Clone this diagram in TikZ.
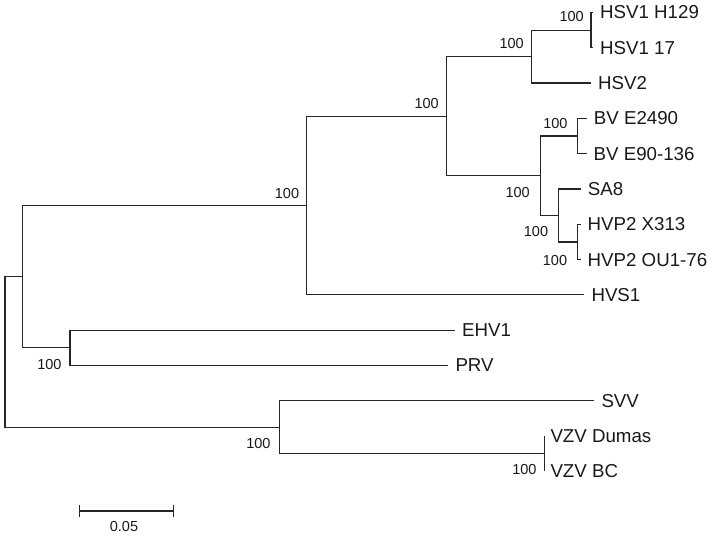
\documentclass[tikz,border=0pt]{standalone}
\usepackage{fontspec}
\setmainfont{Liberation Sans}
\begin{document}
\begin{tikzpicture}[x=1pt,y=-1pt,
  br/.style={line width=1.2pt, draw=black!85},
  leaf/.style={anchor=west, inner xsep=7pt, inner ysep=0pt, text=black!90, font=\fontsize{18.7}{20}\selectfont},
  boot/.style={anchor=east, inner sep=0pt, text=black!90, font=\fontsize{14.5}{16}\selectfont}]
\path[use as bounding box] (0,0) rectangle (715,537);
% leaves
\node[leaf] (l1)  at (593,12.5)   {HSV1 H129};
\node[leaf] (l2)  at (593,47.8)   {HSV1 17};
\node[leaf] (l3)  at (591,83.1)   {HSV2};
\node[leaf] (l4)  at (586.7,118.4) {BV E2490};
\node[leaf] (l5)  at (586.5,153.7) {BV E90-136};
\node[leaf] (l6)  at (580.7,189)  {SA8};
\node[leaf] (l7)  at (580.5,224.3) {HVP2 X313};
\node[leaf] (l8)  at (580.5,259.6) {HVP2 OU1-76};
\node[leaf] (l9)  at (584.3,294.9) {HVS1};
\node[leaf] (l10) at (455,330.2)  {EHV1};
\node[leaf] (l11) at (448.3,365.5) {PRV};
\node[leaf] (l12) at (594.3,400.8) {SVV};
\node[leaf,inner xsep=6pt] (l13) at (544.3,436.1) {VZV Dumas};
\node[leaf,inner xsep=6pt] (l14) at (544.3,471.4) {VZV BC};
% internal nodes
\coordinate (nR)   at (5,352);
\coordinate (nA)   at (22.7,276.7);
\coordinate (nB)   at (306.7,205.55);
\coordinate (nC)   at (446.7,116.2);
\coordinate (nD)   at (531.7,56.6);
\coordinate (nH1)  at (591,30.15);
\coordinate (nE)   at (540.7,175.8);
\coordinate (nBV)  at (577.3,136.05);
\coordinate (nSH)  at (558.3,215.5);
\coordinate (nHV)  at (577.3,241.95);
\coordinate (nF)   at (70,347.85);
\coordinate (nG)   at (279.3,427.3);
\coordinate (nVZV) at (544.3,453.75);
% branches
\draw[br] (nA) -| (nR) |- (nG);
\draw[br] (nB) -| (nA) |- (nF);
\draw[br] (nC) -| (nB) |- (l9.west);
\draw[br] (nD) -| (nC) |- (nE);
\draw[br] (nH1) -| (nD) |- (l3.west);
\draw[br] (l1.west) -| (nH1) |- (l2.west);
\draw[br] (nBV) -| (nE) |- (nSH);
\draw[br] (l4.west) -| (nBV) |- (l5.west);
\draw[br] (l6.west) -| (nSH) |- (nHV);
\draw[br] (l7.west) -| (nHV) |- (l8.west);
\draw[br] (l10.west) -| (nF) |- (l11.west);
\draw[br] (l12.west) -| (nG) |- (nVZV);
\draw[br] (l13.west) -| (nVZV) |- (l14.west);
% bootstrap values
\node[boot] (bB)   at (299.3,193.3) {100};
\node[boot] (bC)   at (439,103.3)   {100};
\node[boot] (bD)   at (524,43.3)    {100};
\node[boot] (bH1)  at (584,16.7)    {100};
\node[boot] (bBV)  at (567.7,123.3) {100};
\node[boot] (bE)   at (530,192.7)   {100};
\node[boot] (bSH)  at (548.3,231.7) {100};
\node[boot] (bHV)  at (567.3,261)   {100};
\node[boot] (bF)   at (61.7,365)    {100};
\node[boot] (bG)   at (270.7,443.3) {100};
\node[boot] (bVZV) at (536.7,470)   {100};
% scale bar
\coordinate (sbL) at (79.3,511);
\coordinate (sbR) at (173.3,511);
\draw[br] (sbL) -- (sbR);
\draw[br] ([yshift=6pt]sbL) -- ([yshift=-5.5pt]sbL);
\draw[br] ([yshift=6pt]sbR) -- ([yshift=-5.5pt]sbR);
\node[boot,anchor=center] (sbT) at (124,526.7) {0.05};
\end{tikzpicture}
\end{document}
